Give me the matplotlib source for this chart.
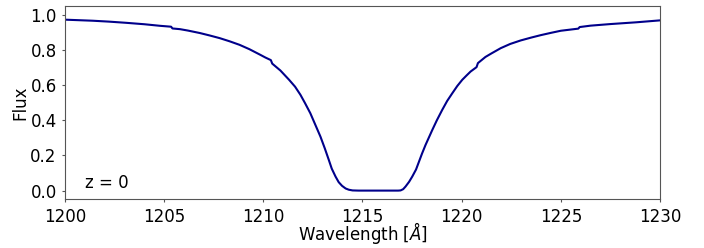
import matplotlib
matplotlib.use("Agg")
import matplotlib.pyplot as plt

# wavelength [A] and flux
wavelength = [1200.0, 1201.4, 1202.2, 1203.1, 1204.0, 1204.8, 1205.35, 1205.42,
              1205.8, 1206.2, 1206.5, 1206.8, 1207.3, 1207.8, 1208.3, 1208.8,
              1209.3, 1209.85, 1210.1, 1210.38, 1210.45, 1210.86, 1211.3,
              1211.6, 1211.87, 1212.1, 1212.37, 1212.6, 1212.88, 1213.1,
              1213.3, 1213.45, 1213.64, 1213.8, 1213.97, 1214.15, 1214.31,
              1214.5, 1214.8, 1215.67, 1216.5, 1216.8, 1216.92, 1217.05,
              1217.17, 1217.35, 1217.51, 1217.7, 1217.85, 1218.0, 1218.18,
              1218.52, 1218.75, 1219.02, 1219.27, 1219.53, 1219.78, 1220.03,
              1220.25, 1220.45, 1220.75, 1220.82, 1221.2, 1221.5, 1221.97,
              1222.45, 1222.98, 1223.5, 1223.99, 1224.5, 1225.0, 1225.88,
              1225.95, 1226.5, 1227.5, 1228.8, 1230.0]
flux = [0.972, 0.966, 0.961, 0.954, 0.946, 0.937, 0.932, 0.922,
        0.918, 0.910, 0.903, 0.896, 0.882, 0.867, 0.849, 0.829,
        0.804, 0.772, 0.757, 0.742, 0.722, 0.683, 0.630,
        0.591, 0.545, 0.498, 0.440, 0.380, 0.307, 0.240,
        0.175, 0.125, 0.080, 0.048, 0.027, 0.012, 0.005,
        0.001, 0.0, 0.0, 0.0, 0.0, 0.001, 0.008,
        0.023, 0.050, 0.080, 0.120, 0.165, 0.210, 0.260,
        0.345, 0.400, 0.459, 0.510, 0.554, 0.595, 0.630,
        0.655, 0.677, 0.702, 0.725, 0.760, 0.780, 0.810,
        0.834, 0.854, 0.870, 0.884, 0.897, 0.909, 0.921,
        0.930, 0.938, 0.947, 0.957, 0.968]

XTICKS = [1200, 1205, 1210, 1215, 1220, 1225, 1230]
YTICKS = [0.0, 0.2, 0.4, 0.6, 0.8, 1.0]

fig = plt.figure(figsize=(7.04, 2.48), dpi=100)
ax = fig.add_axes([0.0923, 0.196, 0.8452, 0.78])

ax.plot(wavelength, flux, color="darkblue", linewidth=1.5)

ax.set_xlim(1200, 1230)
ax.set_ylim(-0.05, 1.05)
ax.set_xticks(XTICKS)
ax.set_yticks(YTICKS)
ax.tick_params(labelsize=12, color="#555555", length=2.5, pad=3.5)
for s in ax.spines.values():
    s.set_color("#555555")

ax.set_xlabel(r"Wavelength [$\AA$]", fontsize=12, labelpad=-4)
ax.set_ylabel("Flux", fontsize=12, labelpad=1)
ax.text(0.034, 0.085, "z = 0", transform=ax.transAxes, fontsize=12, va="center")

fig.savefig("out.png", dpi=100)
